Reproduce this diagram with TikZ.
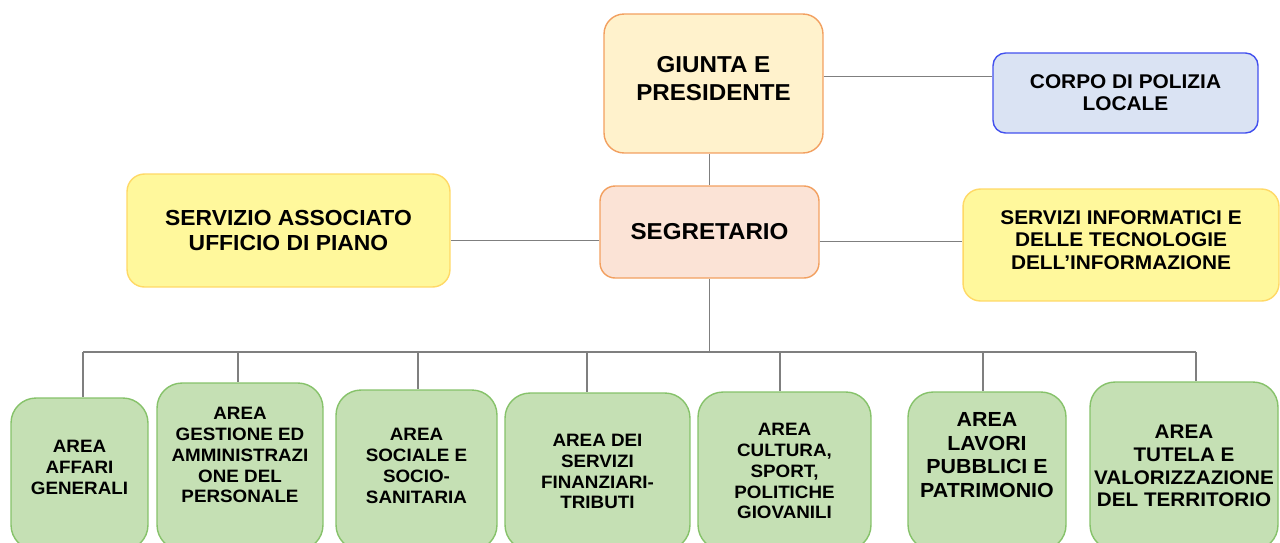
\documentclass[tikz,border=0pt]{standalone}
\usepackage{fontspec}
\setmainfont{Liberation Sans}[FakeStretch=1.05]
\usepackage{xcolor}
\definecolor{giuntafill}{HTML}{FFF2CC}
\definecolor{segrfill}{HTML}{FBE3D6}
\definecolor{orangeline}{HTML}{F2A060}
\definecolor{polfill}{HTML}{DAE3F3}
\definecolor{polline}{HTML}{4250EE}
\definecolor{yelfill}{HTML}{FFF89C}
\definecolor{yelline}{HTML}{FFD966}
\definecolor{areafill}{HTML}{C5E0B4}
\definecolor{arealine}{HTML}{86C26A}
\definecolor{linkgray}{HTML}{7F7F7F}

\begin{document}
\begin{tikzpicture}[x=0.02cm, y=-0.02cm,
    box/.style={draw, line width=0.8pt, align=center, inner sep=0pt},
    area/.style={box, draw=arealine, fill=areafill, rounded corners=0.5cm,
                 font=\fontsize{10.2}{11.9}\selectfont\bfseries},
    yelbox/.style={box, draw=yelline, fill=yelfill, rounded corners=0.35cm},
    link/.style={draw=linkgray, line width=0.7pt}]
    \useasboundingbox (0,0) rectangle (1280,542);
                    % vertice
                    \node[box, draw=orangeline, fill=giuntafill, rounded corners=0.4cm,
                          minimum width=4.38cm, minimum height=2.78cm, text depth=0.2cm,
                          font=\fontsize{13.1}{15.9}\selectfont\bfseries] (giunta) at (713.5,83.5) {GIUNTA E\\PRESIDENTE};
                    \node[box, draw=orangeline, fill=segrfill, rounded corners=0.3cm,
                          minimum width=4.38cm, minimum height=1.84cm,
                          font=\fontsize{13.1}{15.9}\selectfont\bfseries] (segretario) at (709.5,232) {SEGRETARIO};
                    \node[box, draw=polline, fill=polfill, rounded corners=0.25cm,
                          minimum width=5.3cm, minimum height=1.6cm,
                          font=\fontsize{11.3}{12.5}\selectfont\bfseries] (polizia) at (1125.5,93) {CORPO DI POLIZIA\\LOCALE};
                    \node[yelbox, minimum width=6.46cm, minimum height=2.26cm,
                          font=\fontsize{12.4}{14.2}\selectfont\bfseries] (associato) at (288.5,230.5) {SERVIZIO ASSOCIATO\\UFFICIO DI PIANO};
                    \node[yelbox, minimum width=6.32cm, minimum height=2.24cm, text depth=0.2cm,
                          font=\fontsize{11.3}{13}\selectfont\bfseries] (informatici) at (1121,245) {SERVIZI INFORMATICI E\\DELLE TECNOLOGIE\\DELL’INFORMAZIONE};
                    \draw[link] (segretario.north) -- (segretario.north |- giunta.south);
                    \draw[link] ([yshift=0.14cm]giunta.east) -- ([yshift=0.14cm]giunta.east -| polizia.west);
                    \draw[link] ([yshift=-0.17cm]segretario.west) -- ([yshift=-0.17cm]segretario.west -| associato.east);
                    \draw[link] ([yshift=-0.19cm]segretario.east) -- ([yshift=-0.19cm]segretario.east -| informatici.west);
                    % aree
                    \node[area, minimum width=2.74cm, minimum height=3.04cm, text depth=0.28cm] (a1) at (79.5,474) {AREA\\AFFARI\\GENERALI};
                    \node[area, minimum width=3.32cm, minimum height=3.34cm, text depth=0.46cm] (a2) at (240,466.5) {AREA\\GESTIONE ED\\AMMINISTRAZI\\ONE DEL\\PERSONALE};
                    \node[area, minimum width=3.22cm, minimum height=3.2cm, text depth=0.16cm] (a3) at (416.5,470) {AREA\\SOCIALE E\\SOCIO-\\SANITARIA};
                    \node[area, minimum width=3.7cm, minimum height=3.14cm] (a4) at (597.5,471.5) {AREA DEI\\SERVIZI\\FINANZIARI-\\TRIBUTI};
                    \node[area, minimum width=3.46cm, minimum height=3.16cm] (a5) at (784.5,471) {AREA\\CULTURA,\\SPORT,\\POLITICHE\\GIOVANILI};
                    \node[area, minimum width=3.16cm, minimum height=3.16cm, text depth=0.64cm,
                          font=\fontsize{11.6}{13.6}\selectfont\bfseries] (a6) at (987,471) {AREA\\LAVORI\\PUBBLICI E\\PATRIMONIO};
                    \node[area, minimum width=3.76cm, minimum height=3.36cm,
                          font=\fontsize{11.2}{13}\selectfont\bfseries] (a7) at (1184,466) {AREA\\TUTELA E\\VALORIZZAZIONE\\DEL TERRITORIO};
                    \coordinate (busL) at (83,352);
                    \coordinate (busR) at (1196,352);
                    \draw[link] (segretario.south) -- (segretario.south |- busL);
                    \draw[link] (busL) -- (busR);
                    \foreach \i/\x in {1/83,2/238,3/418,4/587,5/780,6/983,7/1196} {
                        \coordinate (b\i) at (\x,352);
                        \draw[link] (b\i) -- (a\i.north -| b\i);
                    }
\end{tikzpicture}
\end{document}
